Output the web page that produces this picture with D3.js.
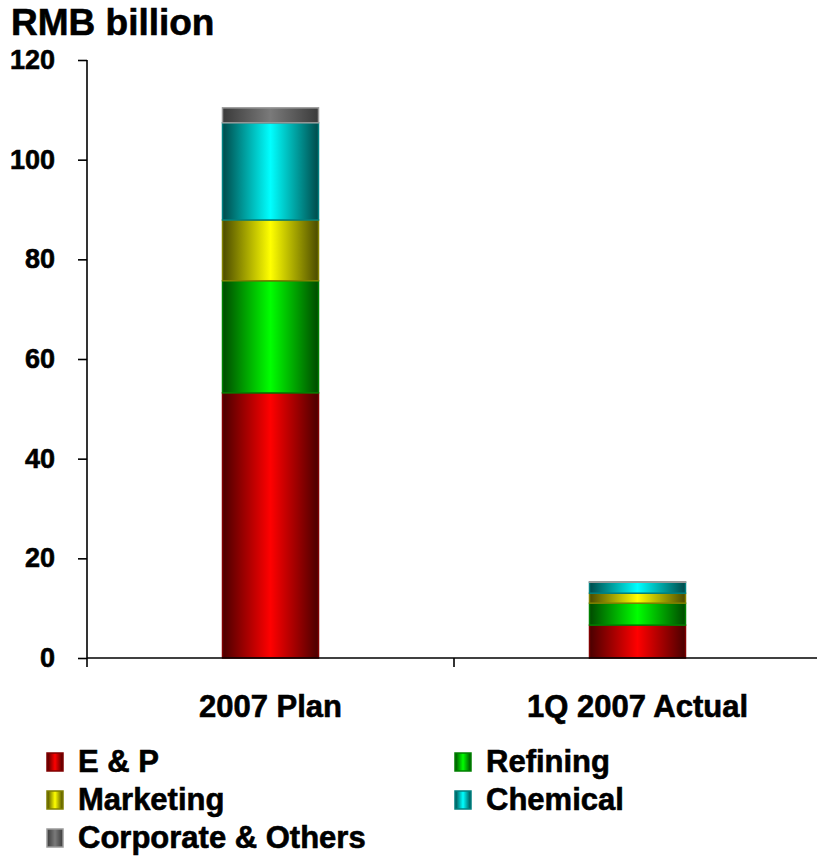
<!DOCTYPE html>
<html><head><meta charset="utf-8">
<script src="https://cdn.jsdelivr.net/npm/d3@7"></script>
<style>body{margin:0;background:#fff}svg{display:block}text{font-family:"Liberation Sans",Arial,sans-serif;font-weight:bold;fill:#000;stroke:#000;stroke-width:0.6px}</style>
</head><body><svg id="c" width="817" height="856"></svg>
<script>
const categories = ["2007 Plan", "1Q 2007 Actual"];
const seriesNames = ["E & P", "Refining", "Marketing", "Chemical", "Corporate & Others"];
const ep = [53.2, 6.6];
const refining = [22.5, 4.4];
const marketing = [12.2, 2.0];
const chemical = [19.5, 2.2];
const corporate = [3.0, 0.1];
const yTicks = [0, 20, 40, 60, 80, 100, 120];
const brightColors = ["#ff0000", "#00ff00", "#ffff00", "#00ffff", "#7a7a7a"];
const darkColors = ["#4a0000", "#004a00", "#4a4a00", "#004a4a", "#3a3a3a"];
const strokeColors = ["#800000", "#008000", "#808000", "#008080", "#9a9a9a"];

const values = [ep, refining, marketing, chemical, corporate];
const rows = categories.map((c, i) => {
  const r = {cat: c};
  seriesNames.forEach((s, k) => r[s] = values[k][i]);
  return r;
});
const stacked = d3.stack().keys(seriesNames)(rows);

const svg = d3.select("#c");
const defs = svg.append("defs");
seriesNames.forEach((s, k) => {
  const g = defs.append("linearGradient").attr("id", "g" + k)
    .attr("x1", "0%").attr("x2", "100%").attr("y1", "0%").attr("y2", "0%");
  g.append("stop").attr("offset", "0%").attr("stop-color", darkColors[k]);
  g.append("stop").attr("offset", "50%").attr("stop-color", brightColors[k]);
  g.append("stop").attr("offset", "100%").attr("stop-color", darkColors[k]);
});

const x = d3.scaleBand().domain(categories).range([87, 821]).padding(0);
const y = d3.scaleLinear().domain([0, 120]).range([658, 60]);
const barW = 96;

// bars
stacked.forEach((layer, k) => {
  svg.append("g").selectAll("rect").data(layer).join("rect")
    .attr("x", d => x(d.data.cat) + x.bandwidth() / 2 - barW / 2)
    .attr("y", d => y(d[1]))
    .attr("width", barW)
    .attr("height", d => Math.max(0, y(d[0]) - y(d[1])))
    .attr("fill", "url(#g" + k + ")")
    .attr("stroke", strokeColors[k])
    .attr("stroke-width", 1.5);
});

// y axis
const yAxis = svg.append("g").attr("transform", "translate(87,0)")
  .call(d3.axisLeft(y).tickValues(yTicks).tickSize(9).tickPadding(23).tickFormat(d3.format("d")));
yAxis.select(".domain").attr("stroke", "#000").attr("stroke-width", 1.6).attr("d", "M0," + y(120) + "V" + y(0));
yAxis.selectAll(".tick line").attr("stroke", "#000").attr("stroke-width", 1.6);
yAxis.selectAll(".tick text").style("font-size", "27px").attr("font-family", null).attr("fill", "#000");

// x axis
const xAxis = svg.append("g").attr("transform", "translate(0,658)")
  .call(d3.axisBottom(x).tickSize(0).tickPadding(37));
xAxis.select(".domain").attr("stroke", "#000").attr("stroke-width", 1.6).attr("d", "M87,0H817");
xAxis.selectAll(".tick text").style("font-size", "31px").attr("font-family", null).attr("fill", "#000");
xAxis.selectAll(".sep").data(categories).join("line").attr("class", "sep")
  .attr("x1", d => x(d)).attr("x2", d => x(d)).attr("y1", 0).attr("y2", 9)
  .attr("stroke", "#000").attr("stroke-width", 1.6);

// title
svg.append("text").attr("x", 11).attr("y", 35).style("font-size", "37px").text("RMB billion");

// legend
const legPos = [[47, 772], [455, 772], [47, 810], [455, 810], [47, 848]];
seriesNames.forEach((s, k) => {
  const [lx, ly] = legPos[k];
  svg.append("rect").attr("x", lx).attr("y", ly - 19).attr("width", 16).attr("height", 18)
    .attr("fill", "url(#g" + k + ")").attr("stroke", strokeColors[k]).attr("stroke-width", 1.5);
  svg.append("text").attr("x", lx + 31).attr("y", ly).style("font-size", "31px").text(s);
});
</script></body></html>
